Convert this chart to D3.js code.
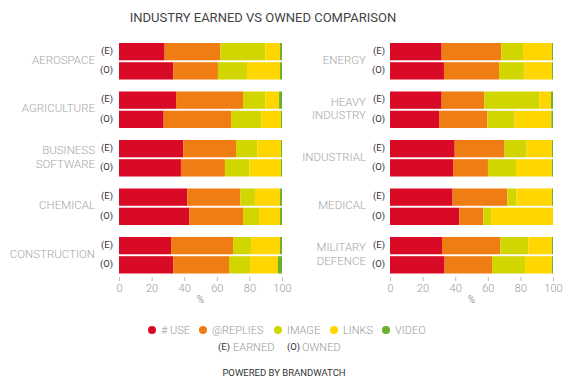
<!DOCTYPE html>
<html>
<head>
<meta charset="utf-8">
<script src="https://cdn.jsdelivr.net/npm/d3@7"></script>
<style>
  body { margin: 0; background: #fff; }
  text { font-family: Roboto, "Open Sans", sans-serif; }
</style>
</head>
<body>
<script>
// series keys, legend labels and colours
let seriesKeys = ["use", "replies", "image", "links", "video"];
let seriesLabels = ["# USE", "@REPLIES", "IMAGE", "LINKS", "VIDEO"];
let seriesColours = ["#d80a26", "#f07d13", "#d2d600", "#ffd600", "#6cb02a"];

let leftCategories = ["AEROSPACE", "AGRICULTURE", "BUSINESS SOFTWARE", "CHEMICAL", "CONSTRUCTION"];
let rightCategories = ["ENERGY", "HEAVY INDUSTRY", "INDUSTRIAL", "MEDICAL", "MILITARY DEFENCE"];
let types = ["(E)", "(O)"];

// % values: use, replies, image, links, video
let earned = {
  "AEROSPACE": [28, 34.2, 27.6, 9, 1.2],
  "AGRICULTURE": [35, 41.1, 13.7, 8.4, 1.8],
  "BUSINESS SOFTWARE": [39.5, 32.3, 13.1, 14.5, 0.6],
  "CHEMICAL": [41.9, 32.5, 9, 15.4, 1.2],
  "CONSTRUCTION": [31.9, 38, 11, 17.8, 1.2],
  "ENERGY": [31.7, 36.6, 13.3, 17.8, 0.6],
  "HEAVY INDUSTRY": [31.7, 26.2, 33.7, 7.2, 1.2],
  "INDUSTRIAL": [39.7, 30.6, 13.5, 15.6, 0.6],
  "MEDICAL": [38.4, 33.6, 5.5, 21.9, 0.6],
  "MILITARY DEFENCE": [31.9, 35.8, 17.2, 14.5, 0.6]
};
let owned = {
  "AEROSPACE": [33.3, 27.4, 17.8, 20.3, 1.2],
  "AGRICULTURE": [27.4, 41.3, 18.8, 11.9, 0.6],
  "BUSINESS SOFTWARE": [38, 27, 15, 19.4, 0.6],
  "CHEMICAL": [43.1, 33, 9.8, 12.9, 1.2],
  "CONSTRUCTION": [33.3, 34.2, 12.9, 17.1, 2.5],
  "ENERGY": [33.1, 33.8, 15.7, 16.8, 0.6],
  "HEAVY INDUSTRY": [30.1, 29.6, 16.8, 22.5, 1],
  "INDUSTRIAL": [38.7, 21.4, 17.2, 22.1, 0.6],
  "MEDICAL": [42.5, 14.8, 4.7, 38, 0],
  "MILITARY DEFENCE": [33.5, 29.1, 20.2, 16.6, 0.6]
};
let xTicks = [0, 20, 40, 60, 80, 100];

let width = 570;
let height = 390;

let svg = d3.select("body").append("svg")
  .attr("width", width)
  .attr("height", height);

svg.append("text")
  .attr("x", 263)
  .attr("y", 22)
  .attr("text-anchor", "middle")
  .attr("font-size", 13)
  .attr("fill", "#444")
  .text("INDUSTRY EARNED VS OWNED COMPARISON");

let colour = d3.scaleOrdinal().domain(seriesKeys).range(seriesColours);

let stack = d3.stack().keys(seriesKeys).offset(d3.stackOffsetExpand);

let drawPanel = function (cats, x0, x1, labelX, typeX) {
  let rows = [];
  cats.forEach((c) => {
    types.forEach((t) => {
      let vals = t === "(E)" ? earned[c] : owned[c];
      let row = { cat: c, type: t };
      seriesKeys.forEach((k, i) => (row[k] = vals[i]));
      rows.push(row);
    });
  });

  let x = d3.scaleLinear().domain([0, 1]).range([x0, x1]);
  let y = d3.scaleBand().domain(cats).range([43, 273.5]).paddingInner(0.247);
  let yInner = d3.scaleBand().domain(types).range([0, y.bandwidth()]).paddingInner(0.1);

  let g = svg.append("g");

  g.selectAll("g.series")
    .data(stack(rows))
    .join("g")
    .attr("fill", (d) => colour(d.key))
    .selectAll("rect")
    .data((d) => d)
    .join("rect")
    .attr("x", (d) => x(d[0]))
    .attr("width", (d) => Math.max(0, x(d[1]) - x(d[0])))
    .attr("y", (d) => y(d.data.cat) + yInner(d.data.type))
    .attr("height", yInner.bandwidth());

  // E / O labels
  cats.forEach((c) => {
    types.forEach((t) => {
      g.append("text")
        .attr("x", typeX)
        .attr("y", y(c) + yInner(t) + yInner.bandwidth() / 2 - 1)
        .attr("dy", "0.35em")
        .attr("text-anchor", "end")
        .attr("font-size", 9.5)
        .attr("fill", "#333")
        .text(t);
    });

    let words = c.split(" ");
    let mid = y(c) + y.bandwidth() / 2 - 1.5;
    words.forEach((w, i) => {
      g.append("text")
        .attr("x", labelX)
        .attr("y", mid + (i - (words.length - 1) / 2) * 13.5)
        .attr("dy", "0.35em")
        .attr("text-anchor", "end")
        .attr("font-size", 11.5)
        .attr("font-weight", 300)
        .attr("fill", "#a6a6a6")
        .text(w);
    });
  });

  let axis = d3.axisBottom(x)
    .tickValues(xTicks.map((t) => t / 100))
    .tickFormat((d) => Math.round(d * 100))
    .tickSize(4)
    .tickPadding(3);

  let ax = g.append("g")
    .attr("transform", "translate(0,277)")
    .call(axis);
  ax.select(".domain").remove();
  ax.selectAll(".tick line").attr("stroke", "#bbb");
  ax.selectAll(".tick text")
    .attr("fill", "#999")
    .attr("font-size", 11)
    .attr("font-weight", 300)
    .attr("font-family", "Roboto, sans-serif");

  g.append("text")
    .attr("x", (x0 + x1) / 2)
    .attr("y", 303)
    .attr("text-anchor", "middle")
    .attr("font-size", 10)
    .attr("fill", "#999")
    .text("%");
};

drawPanel(leftCategories, 119, 282, 95, 113);
drawPanel(rightCategories, 390, 553, 366, 385);

// legend
let legendX = [152, 203, 278, 334, 386];
let legend = svg.append("g");
seriesKeys.forEach((k, i) => {
  legend.append("circle")
    .attr("cx", legendX[i])
    .attr("cy", 330)
    .attr("r", 4)
    .attr("fill", colour(k));
  legend.append("text")
    .attr("x", legendX[i] + 9)
    .attr("y", 330)
    .attr("dy", "0.35em")
    .attr("font-size", 11)
    .attr("font-weight", 300)
    .attr("fill", "#999")
    .text(seriesLabels[i]);
});

let typeLegend = [
  { x: 218, key: "(E)", label: "EARNED" },
  { x: 287, key: "(O)", label: "OWNED" }
];
typeLegend.forEach((d) => {
  legend.append("text")
    .attr("x", d.x)
    .attr("y", 347)
    .attr("dy", "0.35em")
    .attr("font-size", 9.5)
    .attr("fill", "#333")
    .text(d.key);
  legend.append("text")
    .attr("x", d.x + 15)
    .attr("y", 347)
    .attr("dy", "0.35em")
    .attr("font-size", 11)
    .attr("font-weight", 300)
    .attr("fill", "#999")
    .text(d.label);
});

svg.append("text")
  .attr("x", 284)
  .attr("y", 376)
  .attr("text-anchor", "middle")
  .attr("font-size", 9.5)
  .attr("font-weight", 400)
  .attr("fill", "#333")
  .text("POWERED BY BRANDWATCH");
</script>
</body>
</html>
